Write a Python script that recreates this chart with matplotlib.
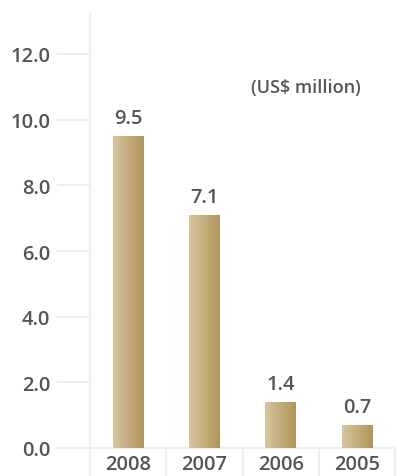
import numpy as np
import matplotlib.pyplot as plt
from matplotlib.colors import LinearSegmentedColormap

# date
years = ['2008', '2007', '2006', '2005']
values = [9.5, 7.1, 1.4, 0.7]
yticks = [0, 2, 4, 6, 8, 10, 12]
unit_label = '(US$ million)'

W, H = 397, 477
fig = plt.figure(figsize=(W / 100, H / 100), dpi=100)

# axa: stanga la x=57px, dreapta la 395px, jos la y=449px (valoarea 0), sus la 14px
left, right, bottom, top = 57, 395, 449, 14
ax = fig.add_axes([left / W, (H - bottom) / H, (right - left) / W, (bottom - top) / H])
px_per_unit = 76.25
x0 = -(90 - left) / px_per_unit
ax.set_xlim(x0, x0 + (right - left) / px_per_unit)
ytop = (bottom - top) / ((bottom - 55) / 12)
ax.set_ylim(0, ytop)
for s in ax.spines.values():
    s.set_visible(False)

txt = '#555555'
grid = '#eeeeee'
font = 'Open Sans'

# linii
ax.vlines(0, -0.85, ytop, color=grid, lw=1.5, clip_on=False, zorder=1)
for v in yticks[1:]:
    ax.hlines(v, x0, 0, color=grid, lw=1.5, zorder=1)
ax.hlines(0, x0, 4, color=grid, lw=1.5, clip_on=False, zorder=1)
for xs in range(1, 5):
    ax.vlines(xs, -0.85, 0, color=grid, lw=1.5, clip_on=False, zorder=1)

# bare cu gradient
cmap = LinearSegmentedColormap.from_list('gold', ['#d8c6a0', '#b0955a'])
grad = np.linspace(0, 1, 100).reshape(1, -1)
xpos = np.arange(len(years)) + 0.5
bw = 0.4
bars = ax.bar(xpos, values, width=bw, color='none', zorder=2)
for b, v in zip(bars, values):
    im = ax.imshow(grad, extent=[b.get_x(), b.get_x() + bw, 0, v],
                   aspect='auto', cmap=cmap, zorder=2)
    im.set_clip_path(b)
    ax.text(b.get_x() + bw / 2, v + 0.25, f'{v:.1f}', ha='center', va='bottom',
            fontsize=14.5, color=txt, family=font, weight='semibold')
ax.set_xlim(x0, x0 + (right - left) / px_per_unit)
ax.set_ylim(0, ytop)

ax.set_yticks(yticks)
ax.set_yticklabels([f'{v:.1f}' for v in yticks], fontsize=14.5, color=txt,
                   family=font, weight='semibold')
ax.tick_params(axis='y', length=0, pad=5)
ax.set_xticks(xpos)
ax.set_xticklabels(years, fontsize=14.5, color=txt, family=font, weight='semibold')
ax.tick_params(axis='x', length=0, pad=4)

ax.text(2.83, 11.0, unit_label, ha='center', va='center', fontsize=13,
        color=txt, family=font, weight='semibold')

fig.savefig('out.png', dpi=100)
